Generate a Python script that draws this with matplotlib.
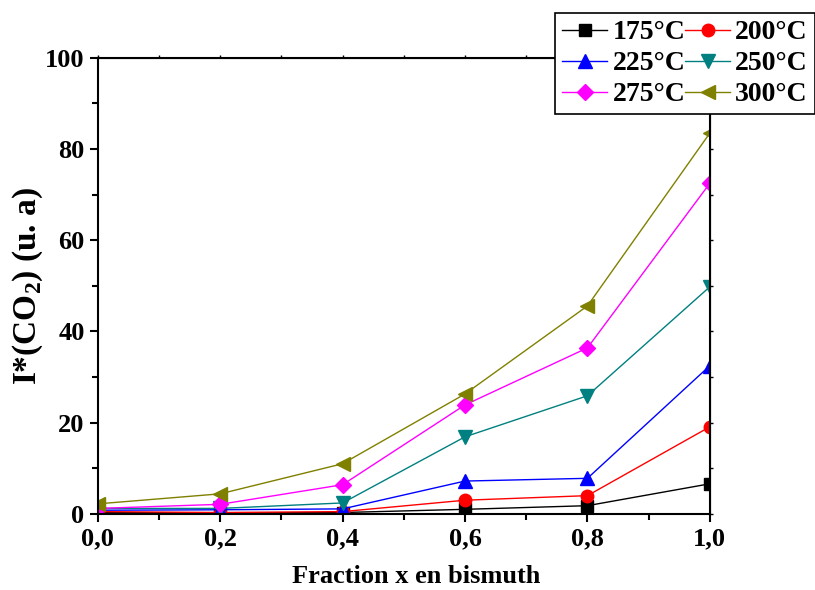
import matplotlib
matplotlib.use('Agg')
import matplotlib.pyplot as plt
from matplotlib.ticker import MultipleLocator, FuncFormatter

plt.rcParams['font.family'] = 'Liberation Serif'
plt.rcParams['font.weight'] = 'bold'
plt.rcParams['mathtext.fontset'] = 'custom'
plt.rcParams['mathtext.rm'] = 'Liberation Serif:bold'
plt.rcParams['mathtext.bf'] = 'Liberation Serif:bold'

# fraction de bismuth
x = [0.0, 0.2, 0.4, 0.6, 0.8, 1.0]

# intensites CO2 par temperature
y175 = [0.3, 0.2, 0.3, 1.0, 1.8, 6.6]
y200 = [0.5, 0.3, 0.5, 3.0, 4.0, 19.1]
y225 = [0.8, 0.9, 1.1, 7.2, 7.8, 32.5]
y250 = [1.2, 1.2, 2.4, 16.9, 25.9, 49.8]
y275 = [1.2, 2.1, 6.4, 23.9, 36.4, 72.5]
y300 = [2.2, 4.4, 11.0, 26.3, 45.6, 83.5]

labels = ['175°C', '200°C', '225°C', '250°C', '275°C', '300°C']
series = [y175, y200, y225, y250, y275, y300]
cores = ['black', 'red', 'blue', '#008080', 'magenta', '#808000']
marcas = ['s', 'o', '^', 'v', 'D', '<']
tamanhos = [8, 9, 10, 10, 8, 10]

fig = plt.figure(figsize=(8.15, 5.9), dpi=100)
ax = fig.add_axes([0.120, 0.129, 0.751, 0.773])

linhas = []
for ys, lab, c, m, ms in zip(series, labels, cores, marcas, tamanhos):
    l, = ax.plot(x, ys, color=c, marker=m, markersize=ms, linewidth=1.0,
                 markeredgecolor=c, markerfacecolor=c, label=lab, clip_on=True)
    linhas.append(l)

ax.set_xlim(0, 1.0)
ax.set_ylim(0, 100)
ax.xaxis.set_major_locator(MultipleLocator(0.2))
ax.xaxis.set_minor_locator(MultipleLocator(0.1))
ax.yaxis.set_major_locator(MultipleLocator(20))
ax.yaxis.set_minor_locator(MultipleLocator(10))
ax.xaxis.set_major_formatter(FuncFormatter(lambda v, p: ('%.1f' % v).replace('.', ',')))
ax.yaxis.set_major_formatter(FuncFormatter(lambda v, p: '%d' % v))

ax.tick_params(which='both', direction='out', width=1.5, labelsize=19)
ax.tick_params(which='major', length=6)
ax.tick_params(which='minor', length=4)
for s in ax.spines.values():
    s.set_linewidth(1.5)

# petits ticks en haut et a droite
top = ax.secondary_xaxis('top')
top.xaxis.set_major_locator(MultipleLocator(0.1))
top.tick_params(length=2, width=1, labeltop=False)
right = ax.secondary_yaxis('right')
right.yaxis.set_major_locator(MultipleLocator(10))
right.tick_params(length=2, width=1, labelright=False)

ax.set_xlabel('Fraction x en bismuth', fontsize=19, fontweight='bold')
ax.xaxis.set_label_coords(0.521, -0.112)
ax.set_ylabel(r'I*(CO$_2$) (u. a)', fontsize=24, fontweight='bold', labelpad=0)

# ordre par lignes dans la legende
ordem = [0, 2, 4, 1, 3, 5]
leg = fig.legend([linhas[i] for i in ordem], [labels[i] for i in ordem],
                 loc='upper right', bbox_to_anchor=(1.0, 1 - 13/590), ncol=2,
                 frameon=True, fancybox=False, edgecolor='black',
                 handlelength=1.6, handletextpad=0.2, columnspacing=0.0,
                 labelspacing=0.2, borderpad=0.25, borderaxespad=0.0,
                 prop={'weight': 'bold', 'size': 20})
leg.get_frame().set_linewidth(1.2)
leg.get_frame().set_alpha(1.0)

fig.savefig('out.png', dpi=100)
